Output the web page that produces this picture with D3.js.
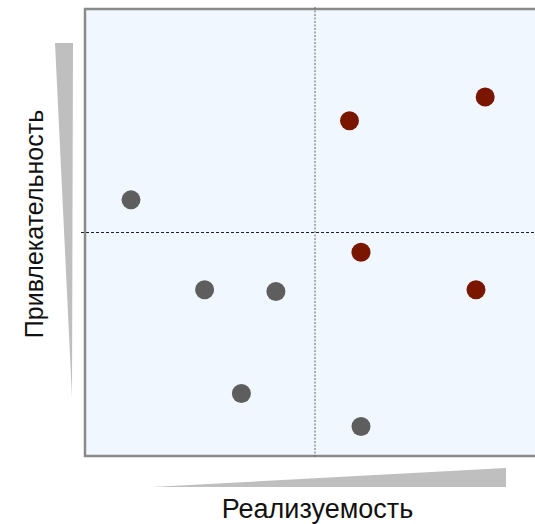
<!DOCTYPE html>
<html><head><meta charset="utf-8">
<script src="https://cdn.jsdelivr.net/npm/d3@7"></script>
<style>body{margin:0;background:#fff}svg{display:block}</style>
</head><body>
<svg id="c" width="535" height="524"></svg>
<script>
const names = ["A","B","C","D","E","F","G","H","I"];
const feasibility = [1.0, 2.6, 4.15, 3.4, 6.0, 6.0, 8.5, 5.75, 8.7];
const attractiveness = [5.73, 3.72, 3.68, 1.4, 0.66, 4.56, 3.72, 7.5, 8.03];
const groups = ["low","low","low","low","low","high","high","high","high"];
const xLabel = "Реализуемость";
const yLabel = "Привлекательность";

const svg = d3.select("#c");
const x = d3.scaleLinear().domain([0,10]).range([85,545]);
const y = d3.scaleLinear().domain([0,10]).range([456,9]);
const color = d3.scaleOrdinal().domain(["low","high"]).range(["#5e5e5e","#7a1600"]);

svg.append("rect").attr("x",x(0)).attr("y",y(10)).attr("width",x(10)-x(0)).attr("height",y(0)-y(10))
  .attr("fill","#f0f7fe").attr("stroke","#8a8a8a").attr("stroke-width",2.5);

svg.append("line").attr("x1",x(5)).attr("x2",x(5)).attr("y1",y(10)-2).attr("y2",y(0)+2)
  .attr("stroke","#666").attr("stroke-width",1).attr("stroke-dasharray","2,1.5");
svg.append("line").attr("x1",x(0)-4).attr("x2",x(10)).attr("y1",y(5)).attr("y2",y(5))
  .attr("stroke","#222").attr("stroke-width",1).attr("stroke-dasharray","3,2");

// wedges
svg.append("path").attr("d","M55,43 L73,43 L72,397 Z").attr("fill","#bfbfbf");
svg.append("path").attr("d","M152,487 L506,468 L506,487 Z").attr("fill","#bfbfbf");

svg.selectAll("circle.pt").data(names).join("circle").attr("class","pt")
  .attr("cx",(d,i)=>x(feasibility[i])).attr("cy",(d,i)=>y(attractiveness[i]))
  .attr("r",9.5).attr("fill",(d,i)=>color(groups[i]));

svg.append("text").attr("x",317.5).attr("y",518).attr("text-anchor","middle")
  .attr("font-family","Liberation Sans, Arial, sans-serif").attr("font-size",27).attr("fill","#111").text(xLabel);
svg.append("text").attr("transform","translate(43,224) rotate(-90)").attr("text-anchor","middle")
  .attr("font-family","Liberation Sans, Arial, sans-serif").attr("font-size",25).attr("fill","#111").text(yLabel);
</script>
</body></html>
